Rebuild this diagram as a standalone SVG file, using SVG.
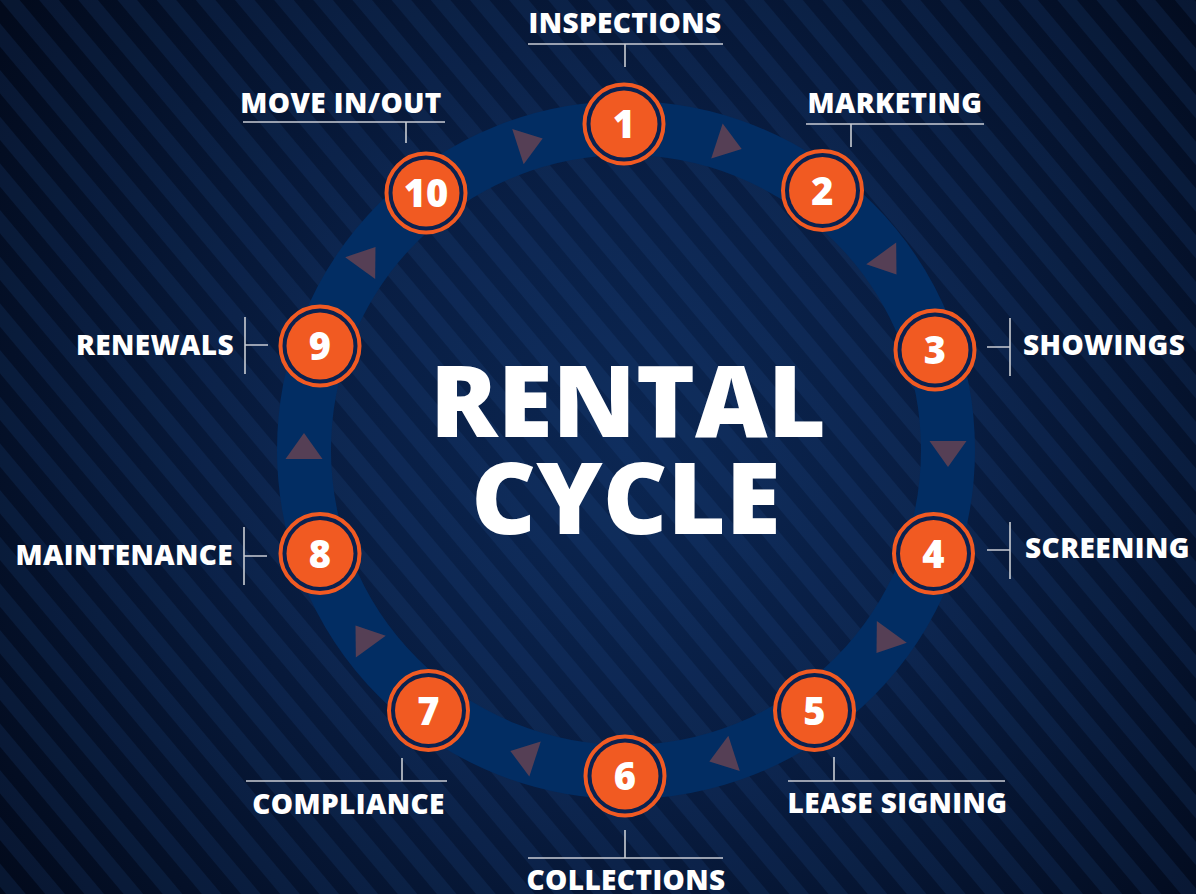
<svg xmlns="http://www.w3.org/2000/svg" width="1196" height="894" viewBox="0 0 1196 894">
<defs>
<radialGradient id="bg" cx="626" cy="450" r="760" gradientUnits="userSpaceOnUse">
<stop offset="0" stop-color="#0b2652"/>
<stop offset="0.45" stop-color="#081c40"/>
<stop offset="1" stop-color="#020a1c"/>
</radialGradient>
<pattern id="stripes" patternUnits="userSpaceOnUse" width="30" height="30" patternTransform="rotate(-40)">
<rect x="0" y="0" width="15" height="30" fill="#2a5fa8" fill-opacity="0.15"/>
</pattern>
<polygon id="arr" points="17,0 -9,-18.5 -9,18.5" fill="#553f55"/>
</defs>
<style>
.ro{fill:#0a2250;stroke:#f15a22;stroke-width:4}
.core{fill:#f15a22}
.num{font-family:"Open Sans","DejaVu Sans",sans-serif;font-weight:800;font-size:38px;fill:#fff;text-anchor:middle}
.lbl{font-family:"Open Sans","DejaVu Sans",sans-serif;font-weight:800;font-size:28px;fill:#fff;letter-spacing:0.4px}
.ld{stroke:#c9ccd3;stroke-width:1.6;fill:none}
.title{font-family:"Open Sans","DejaVu Sans",sans-serif;font-weight:800;font-size:100px;fill:#fff;text-anchor:middle}
</style>
<rect width="1196" height="894" fill="url(#bg)"/>
<rect width="1196" height="894" fill="url(#stripes)"/>
<g id="cycle">
<circle cx="626" cy="450" r="322" fill="none" stroke="#022d63" stroke-width="54"/>
<use href="#arr" transform="translate(626,450) rotate(-72) translate(322,0) rotate(90)"/>
<use href="#arr" transform="translate(626,450) rotate(-36) translate(322,0) rotate(90)"/>
<use href="#arr" transform="translate(626,450) rotate(0) translate(322,0) rotate(90)"/>
<use href="#arr" transform="translate(626,450) rotate(36) translate(322,0) rotate(90)"/>
<use href="#arr" transform="translate(626,450) rotate(72) translate(322,0) rotate(90)"/>
<use href="#arr" transform="translate(626,450) rotate(108) translate(322,0) rotate(90)"/>
<use href="#arr" transform="translate(626,450) rotate(144) translate(322,0) rotate(90)"/>
<use href="#arr" transform="translate(626,450) rotate(180) translate(322,0) rotate(90)"/>
<use href="#arr" transform="translate(626,450) rotate(216) translate(322,0) rotate(90)"/>
<use href="#arr" transform="translate(626,450) rotate(252) translate(322,0) rotate(90)"/>
</g>
<g id="connectors" class="ld">
<path d="M528 44H723M625 44V67"/>
<path d="M806 124H984M851 124V147"/>
<path d="M1010 318V376M987 347H1010"/>
<path d="M1010 522V579M987 550H1010"/>
<path d="M788 781H1005M834 781V757"/>
<path d="M528 858H723M625 858V830"/>
<path d="M246 781H447M402 781V758"/>
<path d="M244 527V585M244 556H267"/>
<path d="M245 317V374M245 345H268"/>
<path d="M243 122H445M406 122V143"/>
</g>
<g id="title">
<text class="title" x="628" y="437">RENTAL</text>
<text class="title" x="626" y="534">CYCLE</text>
</g>
<g id="node-1"><circle class="ro" cx="624" cy="124" r="39.5"/><circle class="core" cx="624" cy="124" r="33.5"/><text class="num" x="624" y="138">1</text><text class="lbl" x="625" y="33" text-anchor="middle">INSPECTIONS</text></g>
<g id="node-2"><circle class="ro" cx="822.5" cy="190.5" r="39.5"/><circle class="core" cx="822.5" cy="190.5" r="33.5"/><text class="num" x="822.5" y="204.5">2</text><text class="lbl" x="895" y="113" text-anchor="middle">MARKETING</text></g>
<g id="node-3"><circle class="ro" cx="935" cy="350" r="39.5"/><circle class="core" cx="935" cy="350" r="33.5"/><text class="num" x="935" y="364">3</text><text class="lbl" x="1023" y="355">SHOWINGS</text></g>
<g id="node-4"><circle class="ro" cx="933.5" cy="553.5" r="39.5"/><circle class="core" cx="933.5" cy="553.5" r="33.5"/><text class="num" x="933.5" y="567.5">4</text><text class="lbl" x="1025" y="558">SCREENING</text></g>
<g id="node-5"><circle class="ro" cx="814.5" cy="710.5" r="39.5"/><circle class="core" cx="814.5" cy="710.5" r="33.5"/><text class="num" x="814.5" y="724.5">5</text><text class="lbl" x="897.5" y="813" text-anchor="middle">LEASE SIGNING</text></g>
<g id="node-6"><circle class="ro" cx="625" cy="776" r="39.5"/><circle class="core" cx="625" cy="776" r="33.5"/><text class="num" x="625" y="790">6</text><text class="lbl" x="626" y="890" text-anchor="middle">COLLECTIONS</text></g>
<g id="node-7"><circle class="ro" cx="428.5" cy="710.5" r="39.5"/><circle class="core" cx="428.5" cy="710.5" r="33.5"/><text class="num" x="428.5" y="724.5">7</text><text class="lbl" x="348.5" y="814" text-anchor="middle">COMPLIANCE</text></g>
<g id="node-8"><circle class="ro" cx="320" cy="553.5" r="39.5"/><circle class="core" cx="320" cy="553.5" r="33.5"/><text class="num" x="320" y="567.5">8</text><text class="lbl" x="233" y="565" text-anchor="end">MAINTENANCE</text></g>
<g id="node-9"><circle class="ro" cx="320" cy="346" r="39.5"/><circle class="core" cx="320" cy="346" r="33.5"/><text class="num" x="320" y="360">9</text><text class="lbl" x="234" y="355" text-anchor="end">RENEWALS</text></g>
<g id="node-10"><circle class="ro" cx="426" cy="193" r="39.5"/><circle class="core" cx="426" cy="193" r="33.5"/><text class="num" x="426" y="207">10</text><text class="lbl" x="341" y="113" text-anchor="middle">MOVE IN/OUT</text></g>
</svg>
